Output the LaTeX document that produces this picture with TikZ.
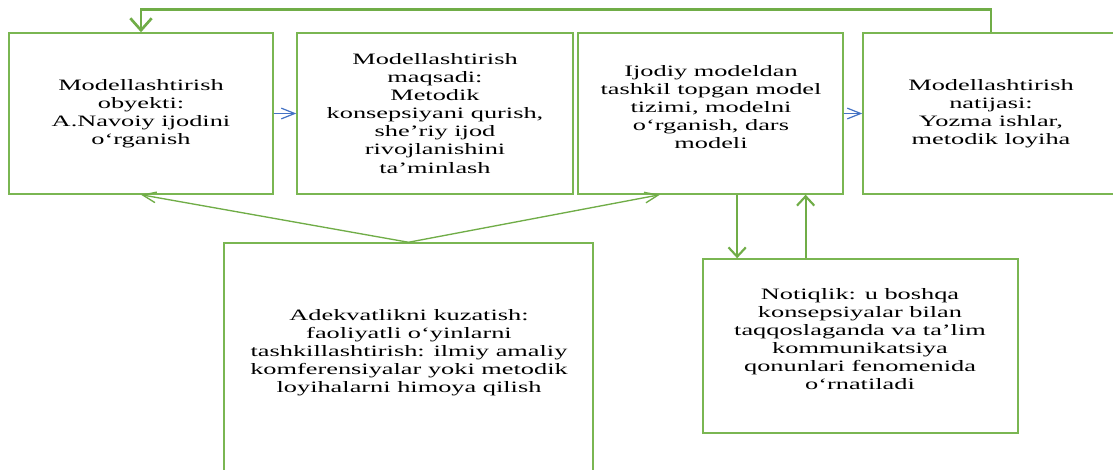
\documentclass[tikz,border=0pt]{standalone}
\usepackage{fontspec}
\setmainfont{Liberation Serif}
\usetikzlibrary{arrows.meta,calc}
\definecolor{grn}{RGB}{112,173,71}
\definecolor{boxgrn}{RGB}{122,182,82}
\definecolor{blu}{RGB}{68,114,196}
\newcommand{\stx}[1]{\scalebox{1.66}[1]{\begin{tabular}{@{}c@{}}#1\end{tabular}}}
\begin{document}
\begin{tikzpicture}[x=0.75pt,y=-0.75pt,
  box/.style={draw=boxgrn,line width=1.1pt,inner sep=0pt},
  txt/.style={inner sep=0pt,font=\fontsize{11.9pt}{13.6pt}\selectfont},
  loopline/.style={draw=grn,line width=2pt,-{Straight Barb[length=9pt,width=16pt]}},
  blueline/.style={draw=blu,line width=0.9pt,-{Straight Barb[length=10pt,width=8pt]}},
  diagline/.style={draw=grn,line width=1pt,-{Straight Barb[length=10pt,width=8pt]}},
  vertline/.style={draw=grn,line width=1.6pt,-{Straight Barb[length=7pt,width=13pt]}}]
\useasboundingbox (0,0) rectangle (1113,470);
\clip (0,0) rectangle (1113,470);
\fill[white] (0,0) rectangle (1113,470);
% boxes
\node[box,minimum width=198pt,minimum height=120.75pt] (b1) at (141,113.5) {};
\node[box,minimum width=207pt,minimum height=120.75pt] (b2) at (435,113.5) {};
\node[box,minimum width=198.75pt,minimum height=120.75pt] (b3) at (710.5,113.5) {};
\node[box,minimum width=192pt,minimum height=120.75pt] (b4) at (991,113.5) {};
\node[box,minimum width=276.75pt,minimum height=185.25pt] (b5) at (408.5,366.5) {};
\node[box,minimum width=236.25pt,minimum height=130.5pt] (b6) at (860.5,346) {};
% texts
\node[txt] (t1) at (141,114) {\stx{Modellashtirish\\obyekti:\\A.Navoiy ijodini\\o‘rganish}};
\node[txt] (t2) at (435,115) {\stx{Modellashtirish\\maqsadi:\\Metodik\\konsepsiyani qurish,\\she’riy ijod\\rivojlanishini\\ta’minlash}};
\node[txt] (t3) at (711,109) {\stx{Ijodiy modeldan\\tashkil topgan model\\tizimi, modelni\\o‘rganish, dars\\modeli}};
\node[txt] (t4) at (991,114) {\stx{Modellashtirish\\natijasi:\\Yozma ishlar,\\metodik loyiha}};
\node[txt] (t5) at (409,353) {\stx{Adekvatlikni kuzatish:\\faoliyatli o‘yinlarni\\tashkillashtirish: ilmiy amaliy\\komferensiyalar yoki metodik\\loyihalarni himoya qilish}};
\node[txt] (t6) at (860,341) {\stx{Notiqlik: u boshqa\\konsepsiyalar bilan\\taqqoslaganda va ta’lim\\kommunikatsiya\\qonunlari fenomenida\\o‘rnatiladi}};
% helper coordinates
\coordinate (d3) at ($(b3.south west)!0.31!(b3.south east)$);
\coordinate (p1) at ($(b3.south west)!0.6!(b3.south east)$);
\coordinate (p2) at ($(b3.south west)!0.857!(b3.south east)$);
% connectors
\draw[loopline] (b4.north) -- ++(0,-23) -| (b1.north);
\draw[blueline] (b1.east) -- (b2.west);
\draw[blueline] (b3.east) -- (b4.west);
\draw[diagline] (b5.north) -- (b1.south);
\draw[diagline] (b5.north) -- (d3);
\draw[vertline] (p1) -- (p1 |- b6.north);
\draw[vertline] (p2 |- b6.north) -- (p2);
\end{tikzpicture}
\end{document}
